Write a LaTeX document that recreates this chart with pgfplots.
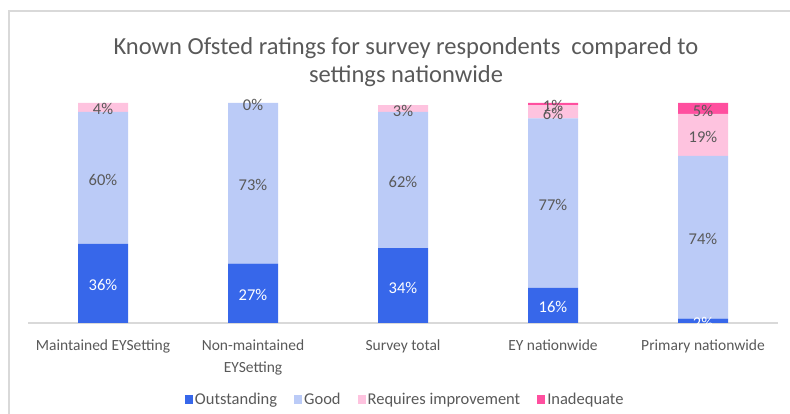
\documentclass[border=0pt]{standalone}
\usepackage{pgfplots}
\pgfplotsset{compat=1.18}
\usepackage{fontspec}
\setmainfont{Carlito}
\definecolor{outst}{HTML}{3767EA}
\definecolor{good}{HTML}{BBCBF7}
\definecolor{reqimp}{HTML}{FEC3DF}
\definecolor{inadeq}{HTML}{FF4F9F}
\definecolor{txtgray}{HTML}{595959}
\definecolor{framegray}{HTML}{D9D9D9}

\begin{document}
\begin{tikzpicture}[x=1pt,y=1pt]
\path[use as bounding box] (0,0) rectangle (790,414);
\draw[framegray, line width=1.5pt] (9,-2) -- (9,403) -- (792,403);
\node[text=txtgray, font=\fontsize{24.5}{28}\selectfont, align=center] at (406,352)
  {Known Ofsted ratings for survey respondents\ \ compared to\\settings nationwide};

\pgfplotsset{rbase/.style={
  at={(28pt,91pt)}, anchor=south west, scale only axis,
  width=750pt, height=220pt,
  xmin=-0.5, xmax=4.5, ymin=0, ymax=100, clip=false}}

%% stacked bars
\begin{axis}[rbase, ybar stacked, bar width=50pt,
  axis x line*=bottom, axis y line=none,
  x axis line style={draw=framegray, line width=1.2pt},
  xtick={0,...,4},
  xticklabels={Maintained EYSetting, {Non-maintained\\EYSetting}, Survey total, EY nationwide, Primary nationwide},
  xticklabel style={align=center, text=txtgray, font=\fontsize{15.5}{22}\selectfont, yshift=-13pt},
  major tick length=0pt, ytick=\empty,
  legend columns=4,
  legend style={at={(0.503,-0.35)}, anchor=center, draw=none,
    font=\fontsize{16.5}{18}\selectfont, text=txtgray,
    /tikz/every odd column/.append style={column sep=0pt},
    /tikz/every even column/.append style={column sep=15pt}},
  legend image code/.code={\fill[#1] (0pt,-4.5pt) rectangle (8pt,4.5pt);},
]
\addplot[fill=outst, draw=none] coordinates {(0,36)(1,27)(2,34)(3,16)(4,2)};
\addplot[fill=good, draw=none] coordinates {(0,60)(1,73)(2,62)(3,77)(4,74)};
\addplot[fill=reqimp, draw=none] coordinates {(0,4)(1,0)(2,3)(3,6)(4,19)};
\addplot[fill=inadeq, draw=none] coordinates {(0,0)(1,0)(2,0)(3,1)(4,5)};
\legend{Outstanding, Good, Requires improvement, Inadequate}
\end{axis}

%% value labels at segment centres
\begin{axis}[rbase, hide axis, nodes near coords, point meta=explicit symbolic,
  every node near coord/.append style={anchor=center, yshift=-2pt,
    font=\fontsize{16.5}{18}\selectfont, text=txtgray}]
\addplot[draw=none, every node near coord/.append style={text=white}]
  coordinates {(0,18)[36\%] (1,13.5)[27\%] (2,17)[34\%] (3,8)[16\%] (4,1)[2\%]};
\addplot[draw=none]
  coordinates {(0,66)[60\%] (1,63.5)[73\%] (2,65)[62\%] (3,54.5)[77\%] (4,39)[74\%]};
\addplot[draw=none]
  coordinates {(0,98)[4\%] (1,100)[0\%] (2,97.5)[3\%] (3,96)[6\%] (4,85.5)[19\%]};
\addplot[draw=none]
  coordinates {(3,99.5)[1\%] (4,97.5)[5\%]};
\end{axis}
\end{tikzpicture}
\end{document}
